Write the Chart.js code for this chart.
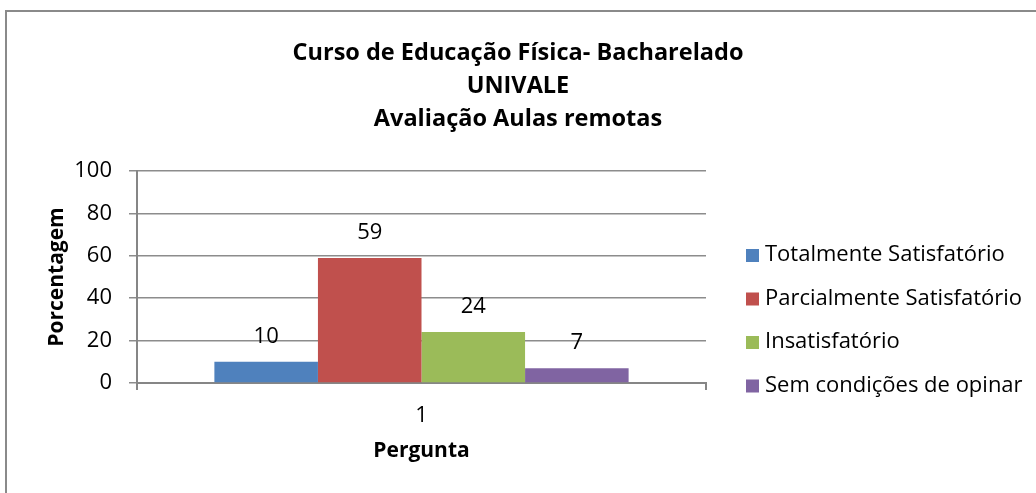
<!DOCTYPE html>
<html>
<head>
<meta charset="utf-8">
<script src="https://cdn.jsdelivr.net/npm/chart.js@4.4.1/dist/chart.umd.min.js"></script>
<style>
  html, body { margin: 0; padding: 0; background: #fff; }
  #wrap { width: 1036px; height: 493px; }
</style>
</head>
<body>
<div id="wrap"><canvas id="grafico"></canvas></div>
<script>
const categorias = ['1'];
const series = ['Totalmente Satisfatório', 'Parcialmente Satisfatório', 'Insatisfatório', 'Sem condições de opinar'];
const valores = [10, 59, 24, 7];
const cores = ['#4F81BD', '#C0504D', '#9BBB59', '#8064A2'];
const titulo = ['Curso de Educação Física- Bacharelado', 'UNIVALE', 'Avaliação Aulas remotas'];
const FONTE = '"Open Sans"';

// moldura (so topo e esquerda aparecem no original)
const moldura = {
  id: 'moldura',
  beforeDraw(chart) {
    const ctx = chart.ctx;
    ctx.save();
    ctx.strokeStyle = '#8a8a8a';
    ctx.lineWidth = 2;
    ctx.beginPath();
    ctx.moveTo(6, 493);
    ctx.lineTo(6, 11);
    ctx.lineTo(1036, 11);
    ctx.stroke();
    ctx.restore();
  }
};

// titulo centrado na pagina toda, nao so na area do grafico
const tituloPlugin = {
  id: 'tituloPlugin',
  afterDraw(chart) {
    const ctx = chart.ctx;
    ctx.save();
    ctx.font = 'bold 23.5px ' + FONTE;
    ctx.fillStyle = '#000';
    ctx.textAlign = 'center';
    ctx.textBaseline = 'middle';
    titulo.forEach((linha, i) => ctx.fillText(linha, 518, 53 + i * 33));
    ctx.restore();
  }
};

// valores acima das barras
const rotulos = {
  id: 'rotulos',
  afterDatasetsDraw(chart) {
    const ctx = chart.ctx;
    ctx.save();
    ctx.font = '22px ' + FONTE;
    ctx.fillStyle = '#000';
    ctx.textAlign = 'center';
    ctx.textBaseline = 'middle';
    chart.data.datasets.forEach((ds, i) => {
      chart.getDatasetMeta(i).data.forEach((bar, j) => {
        ctx.fillText(String(ds.data[j]), bar.x, bar.y - 25);
      });
    });
    ctx.restore();
  }
};

// legenda a direita
const legenda = {
  id: 'legenda',
  afterDraw(chart) {
    const ctx = chart.ctx;
    ctx.save();
    ctx.font = '22px ' + FONTE;
    ctx.textBaseline = 'middle';
    ctx.textAlign = 'left';
    chart.data.datasets.forEach((ds, i) => {
      const y = 255 + i * 43.5;
      ctx.fillStyle = ds.backgroundColor;
      ctx.fillRect(746, y - 6, 13, 13);
      ctx.fillStyle = '#000';
      ctx.fillText(ds.label, 765, y);
    });
    ctx.restore();
  }
};

new Chart(document.getElementById('grafico'), {
  type: 'bar',
  data: {
    labels: categorias,
    datasets: series.map((nome, i) => ({
      label: nome,
      data: [valores[i]],
      backgroundColor: cores[i],
      barPercentage: 1,
      categoryPercentage: 0.728
    }))
  },
  options: {
    responsive: true,
    maintainAspectRatio: false,
    animation: false,
    layout: { padding: { left: 20, right: 330, top: 171, bottom: 0 } },
    plugins: {
      legend: { display: false },
      tooltip: { enabled: false },
      title: { display: false }
    },
    scales: {
      x: {
        grid: { display: true, drawOnChartArea: false, drawTicks: true, tickLength: 7, color: '#868686', lineWidth: 2, offset: true },
        border: { display: true, color: '#868686', width: 2 },
        ticks: { color: '#000', font: { family: FONTE, size: 22 }, padding: 13 },
        title: { display: true, text: 'Pergunta', color: '#000', font: { family: FONTE, size: 21, weight: 'bold' }, padding: { top: 0, bottom: 29 } },
        afterFit(scale) { scale.height = 110; }
      },
      y: {
        min: 0,
        max: 100,
        ticks: { stepSize: 20, color: '#000', font: { family: FONTE, size: 22 }, padding: 17 },
        grid: { color: '#8c8c8c', lineWidth: 1.5, tickLength: 8 },
        border: { display: true, color: '#868686', width: 2 },
        title: { display: true, text: 'Porcentagem', color: '#000', font: { family: FONTE, size: 21, weight: 'bold' }, padding: { top: 24, bottom: 0 } },
        afterFit(scale) { scale.width = 117; }
      }
    }
  },
  plugins: [moldura, tituloPlugin, rotulos, legenda]
});
</script>
</body>
</html>
